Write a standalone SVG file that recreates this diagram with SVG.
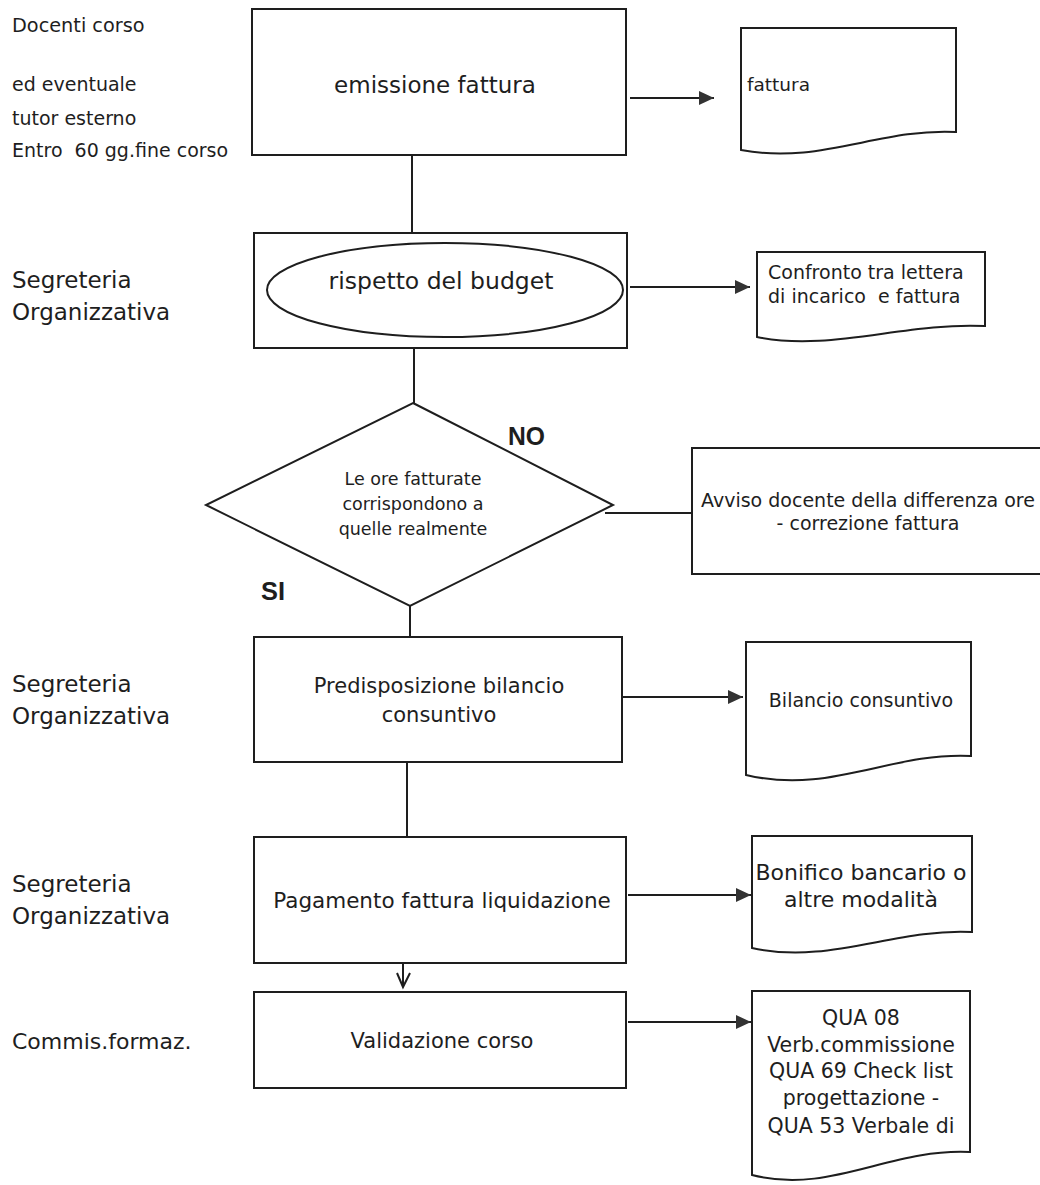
<svg xmlns="http://www.w3.org/2000/svg" width="1040" height="1185" viewBox="0 0 1040 1185">
<defs>
<style>
.ln{fill:none;stroke:#1e1e1e;stroke-width:2}
.bx{fill:#fff;stroke:#1e1e1e;stroke-width:2}
.t{font-family:"DejaVu Sans","Liberation Sans",sans-serif;fill:#1e1e1e}
.c{text-anchor:middle}
.b{font-family:"Liberation Sans",Arial,sans-serif;font-weight:bold;fill:#1e1e1e}
</style>
<marker id="ah" markerUnits="userSpaceOnUse" markerWidth="16" markerHeight="14" refX="15" refY="7" orient="auto">
<path d="M0,0 L15,7 L0,14 Z" fill="#333"/>
</marker>
</defs>
<rect width="1040" height="1185" fill="#fff"/>

<g id="lane-labels">
<text class="t" x="12" y="32" font-size="19.3">Docenti corso</text>
<text class="t" x="12" y="91" font-size="19">ed eventuale</text>
<text class="t" x="12" y="125" font-size="19">tutor esterno</text>
<text class="t" x="12" y="157" font-size="19" xml:space="preserve">Entro  60 gg.fine corso</text>
<text class="t" x="12" y="288" font-size="23">Segreteria</text>
<text class="t" x="12" y="320" font-size="23">Organizzativa</text>
<text class="t" x="12" y="692" font-size="23">Segreteria</text>
<text class="t" x="12" y="724" font-size="23">Organizzativa</text>
<text class="t" x="12" y="892" font-size="23">Segreteria</text>
<text class="t" x="12" y="924" font-size="23">Organizzativa</text>
<text class="t" x="12" y="1049" font-size="22">Commis.formaz.</text>
</g>

<g id="connectors">
<line class="ln" x1="412" y1="155" x2="412" y2="244"/>
<line class="ln" x1="414" y1="337" x2="414" y2="403"/>
<line class="ln" x1="605" y1="513" x2="692" y2="513"/>
<line class="ln" x1="410" y1="606" x2="410" y2="637"/>
<line class="ln" x1="407" y1="762" x2="407" y2="837"/>
<line class="ln" x1="403" y1="963" x2="403" y2="987"/>
<path class="ln" d="M397,973 L403,987 L410,973"/>
<line class="ln" x1="630" y1="98" x2="714" y2="98" marker-end="url(#ah)"/>
<line class="ln" x1="630" y1="287" x2="750" y2="287" marker-end="url(#ah)"/>
<line class="ln" x1="623" y1="697" x2="743" y2="697" marker-end="url(#ah)"/>
<line class="ln" x1="628" y1="895" x2="751" y2="895" marker-end="url(#ah)"/>
<line class="ln" x1="628" y1="1022" x2="751" y2="1022" marker-end="url(#ah)"/>
</g>

<g id="n-emissione">
<rect class="bx" x="252" y="9" width="374" height="146"/>
<text class="t c" x="435" y="93" font-size="23">emissione fattura</text>
</g>

<g id="n-doc-fattura">
<path class="bx" d="M741,28 H956 V132 C880,128 820,165 741,150 Z"/>
<text class="t" x="747" y="91" font-size="18.5">fattura</text>
</g>

<g id="n-budget">
<rect class="bx" x="254" y="233" width="373" height="115"/>
<ellipse class="bx" cx="445" cy="290" rx="178" ry="47"/>
<text class="t c" x="441" y="289" font-size="23.5">rispetto del budget</text>
</g>

<g id="n-doc-confronto">
<path class="bx" d="M757,252 H985 V326 C905,322 830,352 757,337 Z"/>
<text class="t" x="768" y="279" font-size="19">Confronto tra lettera</text>
<text class="t" x="768" y="303" font-size="19" xml:space="preserve">di incarico  e fattura</text>
</g>

<g id="n-decisione">
<path class="bx" d="M413,403 L613,505 L410,606 L206,505 Z"/>
<text class="t c" x="413" y="485" font-size="17.5">Le ore fatturate</text>
<text class="t c" x="413" y="510" font-size="17.5">corrispondono a</text>
<text class="t c" x="413" y="535" font-size="17.5">quelle realmente</text>
<text class="b" x="508" y="445" font-size="25" textLength="37" lengthAdjust="spacingAndGlyphs">NO</text>
<text class="b" x="261" y="600" font-size="25" textLength="24" lengthAdjust="spacingAndGlyphs">SI</text>
</g>

<g id="n-avviso">
<rect class="bx" x="692" y="448" width="360" height="126"/>
<text class="t c" x="868" y="507" font-size="19">Avviso docente della differenza ore</text>
<text class="t c" x="868" y="530" font-size="19">- correzione fattura</text>
</g>

<g id="n-predisposizione">
<rect class="bx" x="254" y="637" width="368" height="125"/>
<text class="t c" x="439" y="693" font-size="21">Predisposizione bilancio</text>
<text class="t c" x="439" y="722" font-size="21">consuntivo</text>
</g>

<g id="n-doc-bilancio">
<path class="bx" d="M746,642 H971 V756 C890,752 830,795 746,775 Z"/>
<text class="t c" x="861" y="707" font-size="19">Bilancio consuntivo</text>
</g>

<g id="n-pagamento">
<rect class="bx" x="254" y="837" width="372" height="126"/>
<text class="t c" x="442" y="908" font-size="21.5">Pagamento fattura liquidazione</text>
</g>

<g id="n-doc-bonifico">
<path class="bx" d="M752,836 H972 V932 C895,928 830,965 752,948 Z"/>
<text class="t c" x="861" y="880" font-size="22">Bonifico bancario o</text>
<text class="t c" x="861" y="907" font-size="22">altre modalità</text>
</g>

<g id="n-validazione">
<rect class="bx" x="254" y="992" width="372" height="96"/>
<text class="t c" x="442" y="1048" font-size="21">Validazione corso</text>
</g>

<g id="n-doc-qua">
<path class="bx" d="M752,991 H970 V1152 C890,1148 830,1195 752,1175 Z"/>
<text class="t c" x="861" y="1025" font-size="20.5">QUA 08</text>
<text class="t c" x="861" y="1052" font-size="20.5">Verb.commissione</text>
<text class="t c" x="861" y="1078" font-size="20.5">QUA 69 Check list</text>
<text class="t c" x="861" y="1105" font-size="20.5">progettazione -</text>
<text class="t c" x="861" y="1133" font-size="20.5">QUA 53 Verbale di</text>
</g>
</svg>
